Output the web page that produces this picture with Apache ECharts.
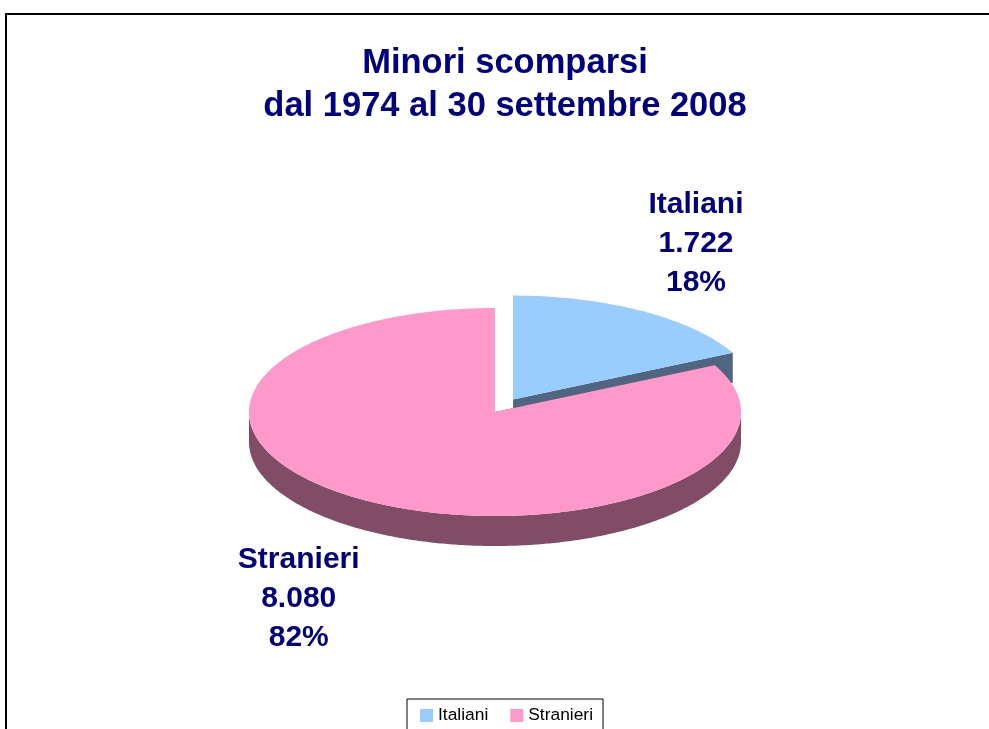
<!DOCTYPE html>
<html>
<head>
<meta charset="utf-8">
<title>Minori scomparsi</title>
<script src="https://cdn.jsdelivr.net/npm/echarts@6/dist/echarts.min.js"></script>
<style>
  html, body { margin: 0; padding: 0; background: #fff; }
  #chart { width: 989px; height: 729px; }
</style>
</head>
<body>
<div id="chart"></div>
<script>
var categories = ['Italiani', 'Stranieri'];
var values = [1722, 8080];
var titleLines = ['Minori scomparsi', 'dal 1974 al 30 settembre 2008'];

var topColors = ['#99ccff', '#ff99cc'];
var sideColors = ['#4f6580', '#804c66'];
var FONT = '"Liberation Sans", Arial, sans-serif';

var total = values.reduce(function (a, b) { return a + b; }, 0);

// pie seen from above: ellipse + depth
var cx = 495, cy = 412, rx = 246, ry = 104, depth = 30;
var explode = [0.14, 0];

function fmt(v) {
  return String(v).replace(/\B(?=(\d{3})+(?!\d))/g, '.');
}

var measureCtx = document.createElement('canvas').getContext('2d');
function maxLineWidth(lines, font) {
  measureCtx.font = font;
  var w = 0;
  lines.forEach(function (l) { w = Math.max(w, measureCtx.measureText(l).width); });
  return w;
}

function sliceAngles(i) {
  var start = -Math.PI / 2;
  for (var k = 0; k < i; k++) start += values[k] / total * Math.PI * 2;
  return [start, start + values[i] / total * Math.PI * 2];
}

function renderSlice(idx) {
  return function (params, api) {
    var a = sliceAngles(idx);
    var mid = (a[0] + a[1]) / 2;
    var ox = cx + explode[idx] * rx * Math.cos(mid);
    var oy = cy + explode[idx] * ry * Math.sin(mid);

    function rim(t, d) {
      return [ox + rx * Math.cos(t), oy + ry * Math.sin(t) + (d || 0)];
    }
    function arc(t0, t1, d) {
      var pts = [];
      var n = Math.max(2, Math.ceil((t1 - t0) / 0.01));
      for (var i = 0; i <= n; i++) pts.push(rim(t0 + (t1 - t0) * i / n, d));
      return pts;
    }

    var children = [];
    // cut faces
    [a[0], a[1]].forEach(function (t) {
      children.push({
        type: 'polygon',
        shape: { points: [[ox, oy], rim(t), rim(t, depth), [ox, oy + depth]] },
        style: { fill: sideColors[idx] }
      });
    });
    // outer wall, front half only
    var t0 = Math.max(a[0], 0), t1 = Math.min(a[1], Math.PI);
    if (t1 > t0) {
      children.push({
        type: 'polygon',
        shape: { points: arc(t0, t1, 0).concat(arc(t0, t1, depth).reverse()) },
        style: { fill: sideColors[idx] }
      });
    }
    // top face
    children.push({
      type: 'polygon',
      shape: { points: [[ox, oy]].concat(arc(a[0], a[1], 0)) },
      style: { fill: topColors[idx] }
    });

    // label
    var pct = Math.round(api.value(0) / total * 100) + '%';
    var lines = [categories[idx], fmt(api.value(0)), pct];
    var w = maxLineWidth(lines, 'bold 30px ' + FONT);
    var c = Math.cos(mid), s = Math.sin(mid);
    var lx = ox + rx * 1.05 * c + (c >= 0 ? 1 : -1) * w / 2;
    var ly = oy + ry * 1.765 * s + (s > 0 ? depth : 0);
    children.push({
      type: 'text',
      x: lx,
      y: ly,
      style: {
        text: lines.join('\n'),
        fill: '#000080',
        fontSize: 30,
        fontWeight: 'bold',
        fontFamily: FONT,
        lineHeight: 39,
        align: 'center',
        verticalAlign: 'middle'
      }
    });

    return { type: 'group', children: children };
  };
}

var chart = echarts.init(document.getElementById('chart'));

var series = categories.map(function (name, i) {
  return {
    type: 'custom',
    name: name,
    coordinateSystem: 'none',
    itemStyle: { color: topColors[i] },
    silent: true,
    data: [[values[i]]],
    renderItem: renderSlice(i)
  };
});

chart.setOption({
  animation: false,
  legend: {
    data: categories,
    left: 407,
    top: 699,
    icon: 'rect',
    itemWidth: 13,
    itemHeight: 13,
    itemGap: 22,
    padding: [8, 10, 14, 13],
    borderColor: '#000',
    borderWidth: 1,
    selectedMode: false,
    textStyle: { fontFamily: FONT, fontSize: 17.4, color: '#000' }
  },
  graphic: [{
    type: 'rect',
    z: -10,
    shape: { x: 6, y: 14, width: 1100, height: 800 },
    style: { fill: 'none', stroke: '#000', lineWidth: 2 }
  }, {
    type: 'text',
    x: 505,
    y: 85,
    style: {
      text: titleLines.join('\n'),
      fill: '#000080',
      fontSize: 34.5,
      fontWeight: 'bold',
      fontFamily: FONT,
      lineHeight: 43,
      align: 'center',
      verticalAlign: 'middle'
    }
  }],
  series: series
});
</script>
</body>
</html>
